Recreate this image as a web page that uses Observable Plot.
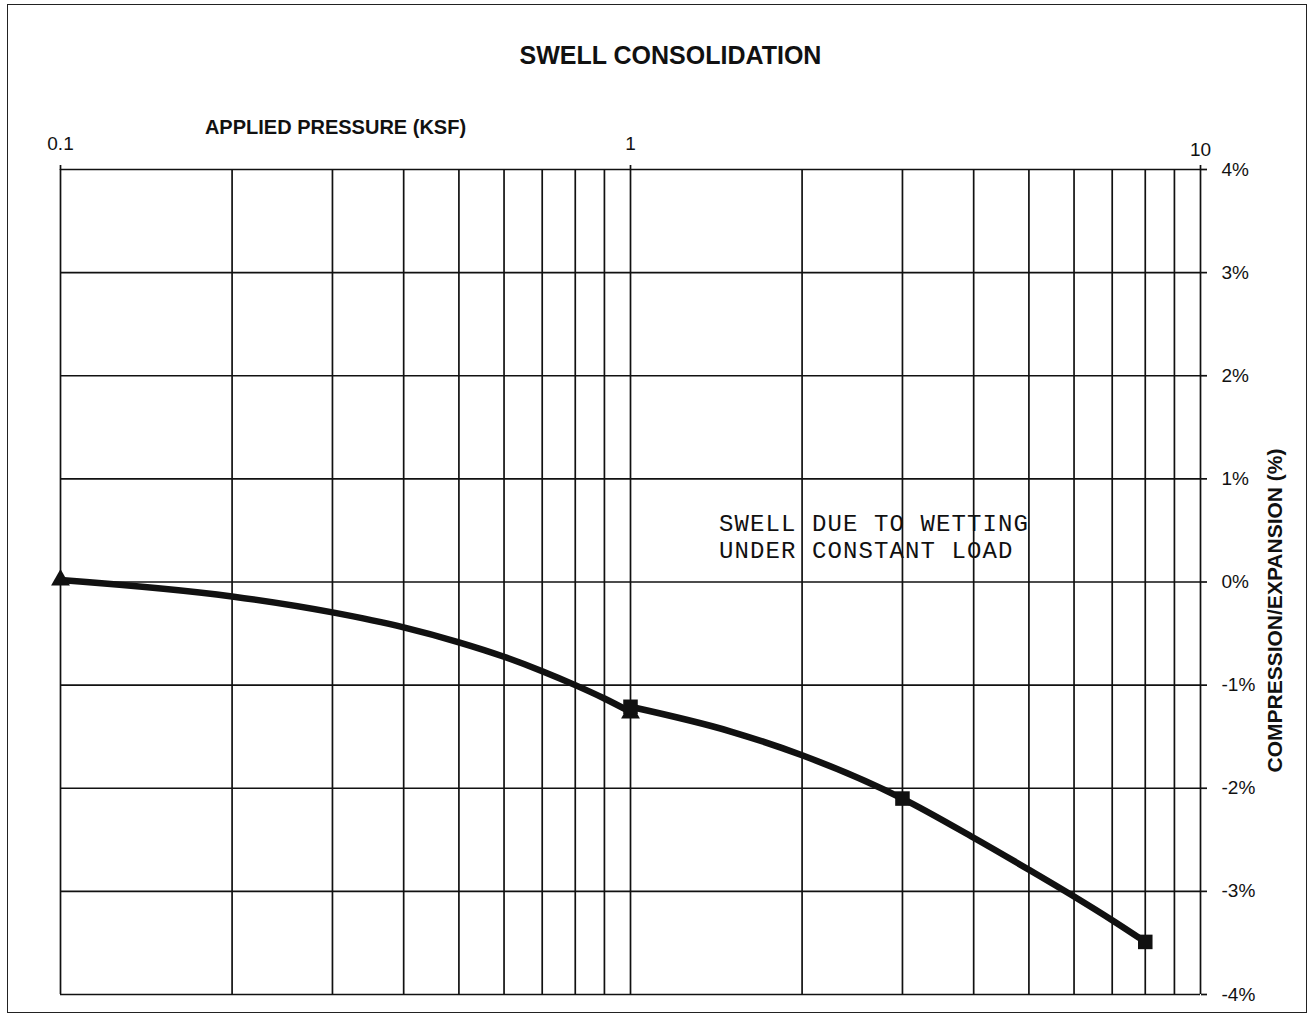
<!DOCTYPE html>
<html>
<head>
<meta charset="utf-8">
<script src="https://cdn.jsdelivr.net/npm/d3@7"></script>
<script src="https://cdn.jsdelivr.net/npm/@observablehq/plot@0.6"></script>
<style>
  html, body { margin: 0; padding: 0; background: #fff; }
  #wrap { position: relative; width: 1311px; height: 1018px; overflow: hidden; }
  #border { position: absolute; left: 7px; top: 4px; width: 1300px; height: 1009px; border: 1.5px solid #222; box-sizing: border-box; pointer-events: none; }
  #chart { position: absolute; left: 0; top: 0; }
  #chart g[font-family*="Mono"] text { letter-spacing: 1.1px; }
</style>
</head>
<body>
<div id="wrap"><div id="chart"></div><div id="border"></div></div>
<script>
// ---- data ----
const titleText = "SWELL CONSOLIDATION";
const xLabelText = "APPLIED PRESSURE (KSF)";
const yLabelText = "COMPRESSION/EXPANSION (%)";
const annotationLines = ["SWELL DUE TO WETTING", "UNDER CONSTANT LOAD"];
const annotationX = [1.43, 1.43];
const annotationY = [0.57, 0.31];

// markers
const loadPressure = [0.1, 1];            // triangles
const loadStrain = [0.02, -1.27];
const wetPressure = [1, 3, 8];            // squares
const wetStrain = [-1.21, -2.10, -3.49];

// smoothed curves as drawn
const leftCurvePressure = [0.1, 0.2, 0.3, 0.4, 0.5, 0.6, 0.7, 0.8, 0.9, 1];
const leftCurveStrain = [0.02, -0.14, -0.295, -0.44, -0.585, -0.725, -0.865, -1.00, -1.13, -1.26];
const rightCurvePressure = [1, 1.5, 2, 3, 4, 5, 6, 7, 8];
const rightCurveStrain = [-1.21, -1.45, -1.68, -2.10, -2.48, -2.79, -3.05, -3.28, -3.49];

// ticks
const xGridTicks = [0.1, 0.2, 0.3, 0.4, 0.5, 0.6, 0.7, 0.8, 0.9, 1, 2, 3, 4, 5, 6, 7, 8, 9, 10];
const xTickValues = [0.1, 1, 10];
const xTickLabels = ["0.1", "1", "10"];
const yTicks = [-4, -3, -2, -1, 0, 1, 2, 3, 4];
const yTickLabels = ["-4%", "-3%", "-2%", "-1%", "0%", "1%", "2%", "3%", "4%"];

const toRows = (xs, ys) => xs.map((x, i) => ({x, y: ys[i]}));
const ink = "#111";
const sans = "'Liberation Sans', Arial, Helvetica, sans-serif";

const chart = Plot.plot({
  width: 1311,
  height: 1018,
  marginTop: 169,
  marginLeft: 60,
  marginRight: 111,
  marginBottom: 24,
  style: {fontFamily: sans, fontSize: "19px", color: ink, background: "transparent"},
  x: {type: "log", domain: [0.1, 10], axis: null},
  y: {domain: [-4, 4], axis: null},
  marks: [
    Plot.gridX(xGridTicks, {stroke: ink, strokeOpacity: 1, strokeWidth: 1.7}),
    Plot.gridY(yTicks, {stroke: ink, strokeOpacity: 1, strokeWidth: 1.7}),
    Plot.axisX(xTickValues.slice(0, 2), {anchor: "top", tickSize: 5, tickPadding: 15, strokeWidth: 1.7,
      tickFormat: d => xTickLabels[xTickValues.indexOf(d)], fontSize: 19, fill: ink, label: null}),
    Plot.axisX(xTickValues.slice(2), {anchor: "top", tickSize: 5, tickPadding: 9, strokeWidth: 1.7,
      tickFormat: d => xTickLabels[xTickValues.indexOf(d)], fontSize: 19, fill: ink, label: null}),
    Plot.axisY(yTicks, {anchor: "right", tickSize: 6, tickPadding: 15, strokeWidth: 1.7,
      tickFormat: d => yTickLabels[yTicks.indexOf(d)], fontSize: 19, fill: ink, label: null}),
    Plot.line(toRows(leftCurvePressure, leftCurveStrain), {x: "x", y: "y", curve: "monotone-x",
      stroke: ink, strokeWidth: 6.5, strokeLinejoin: "round"}),
    Plot.line(toRows(rightCurvePressure, rightCurveStrain), {x: "x", y: "y", curve: "monotone-x",
      stroke: ink, strokeWidth: 6.5, strokeLinejoin: "round"}),
    Plot.dot(toRows(loadPressure, loadStrain), {x: "x", y: "y", symbol: "triangle", r: 7, fill: ink, stroke: "none"}),
    Plot.dot(toRows(wetPressure, wetStrain), {x: "x", y: "y", symbol: "square", r: 8.2, fill: ink, stroke: "none"}),
    Plot.text(annotationLines.map((t, i) => ({t, x: annotationX[i], y: annotationY[i]})), {
      x: "x", y: "y", text: "t", textAnchor: "start", lineAnchor: "middle",
      fontFamily: "'Liberation Mono', 'Courier New', monospace", fontSize: 24, fill: ink}),
    Plot.text([titleText], {frameAnchor: "top-left", dx: 610, dy: -114, text: d => d,
      textAnchor: "middle", lineAnchor: "middle", fontSize: 25, fontWeight: "bold", fill: ink}),
    Plot.text([xLabelText], {frameAnchor: "top-left", dx: 275, dy: -42, text: d => d,
      textAnchor: "middle", lineAnchor: "middle", fontSize: 20, fontWeight: "bold", fill: ink}),
    Plot.text([yLabelText], {frameAnchor: "top-right", dx: 75, dy: 441, text: d => d, rotate: -90,
      textAnchor: "middle", lineAnchor: "middle", fontSize: 21, fontWeight: "bold", fill: ink})
  ]
});
document.getElementById("chart").appendChild(chart);
</script>
</body>
</html>
